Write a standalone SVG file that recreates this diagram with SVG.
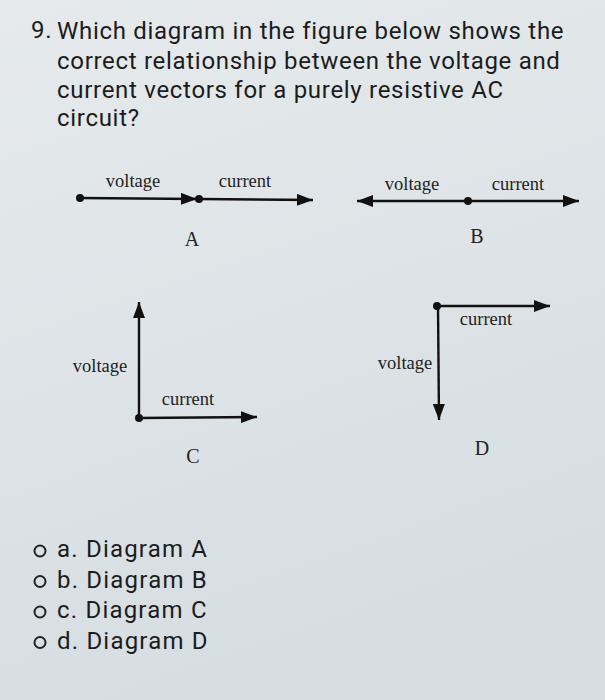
<svg xmlns="http://www.w3.org/2000/svg" width="605" height="700" viewBox="0 0 605 700">
<defs>
<linearGradient id="bg" x1="0" y1="0" x2="0.3" y2="1">
<stop offset="0" stop-color="#e6eaec"/>
<stop offset="1" stop-color="#d6dee2"/>
</linearGradient>
<marker id="ah" viewBox="0 0 16 12" refX="16" refY="6" markerUnits="userSpaceOnUse" markerWidth="16" markerHeight="12" orient="auto">
<path d="M0,0 L16,6 L0,12 z" fill="#111"/>
</marker>
<style>
.q{font-family:Roboto,"Liberation Sans",sans-serif;font-size:24px;letter-spacing:0.7px;fill:#1c1c1c}
.o{font-family:Roboto,"Liberation Sans",sans-serif;font-size:24px;letter-spacing:1.2px;fill:#1c1c1c}
.s{font-family:"Liberation Serif",serif;font-size:18.5px;fill:#222}
.L{font-family:"Liberation Serif",serif;font-size:20px;fill:#222}
.v{stroke:#111;stroke-width:2.4;fill:none;marker-end:url(#ah)}
.dot{fill:#111}
.rb{fill:none;stroke:#222;stroke-width:2}
</style>
</defs>
<rect width="605" height="700" fill="url(#bg)"/>
<g id="question">
<text class="q" x="31" y="38">9.</text>
<text class="q" x="57" y="39">Which diagram in the figure below shows the</text>
<text class="q" x="57" y="69">correct relationship between the voltage and</text>
<text class="q" x="57" y="98">current vectors for a purely resistive AC</text>
<text class="q" x="57" y="126">circuit?</text>
</g>
<g id="connectors">
<line class="v" x1="80" y1="198" x2="197" y2="199"/>
<line class="v" x1="199" y1="199" x2="313" y2="200"/>
<line class="v" x1="468" y1="201" x2="357" y2="201"/>
<line class="v" x1="468" y1="201" x2="579" y2="201"/>
<line class="v" x1="139" y1="418" x2="139" y2="302"/>
<line class="v" x1="139" y1="418" x2="257" y2="417"/>
<line class="v" x1="437" y1="306" x2="550" y2="306"/>
<line class="v" x1="438" y1="306" x2="439" y2="420"/>
</g>
<g id="diagramA">
<circle class="dot" cx="80" cy="198" r="4"/>
<circle class="dot" cx="199" cy="199" r="4"/>
<text class="s" x="133" y="187" text-anchor="middle">voltage</text>
<text class="s" x="245" y="187" text-anchor="middle">current</text>
<text class="L" x="192" y="246" text-anchor="middle">A</text>
</g>
<g id="diagramB">
<circle class="dot" cx="468" cy="201" r="4"/>
<text class="s" x="412" y="190" text-anchor="middle">voltage</text>
<text class="s" x="518" y="190" text-anchor="middle">current</text>
<text class="L" x="477" y="243" text-anchor="middle">B</text>
</g>
<g id="diagramC">
<circle class="dot" cx="139" cy="418" r="4"/>
<text class="s" x="100" y="372" text-anchor="middle">voltage</text>
<text class="s" x="188" y="405" text-anchor="middle">current</text>
<text class="L" x="193" y="463" text-anchor="middle">C</text>
</g>
<g id="diagramD">
<circle class="dot" cx="437" cy="306" r="4"/>
<text class="s" x="486" y="325" text-anchor="middle">current</text>
<text class="s" x="405" y="369" text-anchor="middle">voltage</text>
<text class="L" x="482" y="455" text-anchor="middle">D</text>
</g>
<g id="options">
<circle class="rb" cx="40" cy="551" r="5.5"/>
<text class="o" x="57" y="557">a. Diagram A</text>
<circle class="rb" cx="40" cy="581.5" r="5.5"/>
<text class="o" x="57" y="587.5">b. Diagram B</text>
<circle class="rb" cx="40" cy="612" r="5.5"/>
<text class="o" x="57" y="618">c. Diagram C</text>
<circle class="rb" cx="40" cy="642.5" r="5.5"/>
<text class="o" x="57" y="648.5">d. Diagram D</text>
</g>
</svg>
